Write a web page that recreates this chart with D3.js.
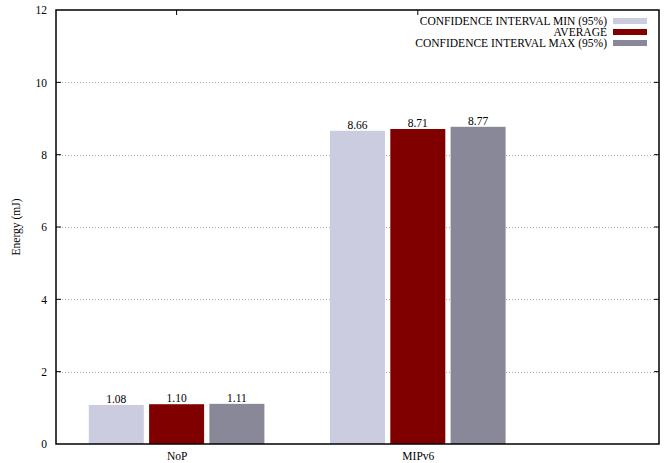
<!DOCTYPE html>
<html>
<head>
<meta charset="utf-8">
<script src="https://cdn.jsdelivr.net/npm/d3@7"></script>
<style>
  html, body { margin: 0; padding: 0; background: #fff; }
  svg text { font-family: "Liberation Serif", "Times New Roman", serif; }
</style>
</head>
<body>
<svg id="chart" width="669" height="463"></svg>
<script>
// Energy consumption per protocol, with 95% confidence bounds
const categories = ["NoP", "MIPv6"];
const seriesNames = ["CONFIDENCE INTERVAL MIN (95%)", "AVERAGE", "CONFIDENCE INTERVAL MAX (95%)"];
const ciMin = [1.08, 8.66];
const average = [1.10, 8.71];
const ciMax = [1.11, 8.77];
const yTicks = [0, 2, 4, 6, 8, 10, 12];
const seriesColors = ["#cccce0", "#800000", "#888898"];

const seriesValues = [ciMin, average, ciMax];
const FONT = "Liberation Serif";
const FS = "11.5px";

const svg = d3.select("#chart");
const margin = { left: 56, right: 10, top: 10, bottom: 19 };
const W = 669, H = 463;
const x0 = margin.left, x1 = W - margin.right;
const y0 = H - margin.bottom, y1 = margin.top;

// category index scale: categories at 0,1 ; range -0.5 .. 2
const x = d3.scaleLinear().domain([-0.5, 2]).range([x0, x1]);
const y = d3.scaleLinear().domain([0, 12]).range([y0, y1]);

const slot = 0.25;          // 3 bars + 1 gap per category
const barW = 0.228;

// dotted grid
svg.append("g").selectAll("line")
  .data(yTicks.filter(t => t > 0 && t < 12))
  .join("line")
  .attr("x1", x0).attr("x2", x1)
  .attr("y1", d => Math.round(y(d)) + 0.5).attr("y2", d => Math.round(y(d)) + 0.5)
  .attr("stroke", "#b0b0b0").attr("stroke-width", 1)
  .attr("stroke-dasharray", "1,2");

// bars
const bars = [];
categories.forEach((c, ci) => {
  seriesValues.forEach((vals, si) => {
    bars.push({ ci, si, v: vals[ci] });
  });
});

svg.append("g").selectAll("rect")
  .data(bars)
  .join("rect")
  .attr("x", d => x(d.ci + (d.si - 1) * slot - barW / 2))
  .attr("width", d => x(barW) - x(0))
  .attr("y", d => y(d.v))
  .attr("height", d => y(0) - y(d.v))
  .attr("fill", d => seriesColors[d.si]);

// value labels
svg.append("g").selectAll("text")
  .data(bars)
  .join("text")
  .attr("x", d => x(d.ci + (d.si - 1) * slot))
  .attr("y", d => y(d.v) - 2)
  .attr("text-anchor", "middle")
  .style("font-family", FONT).style("font-size", FS)
  .attr("fill", "#000")
  .text(d => d.v.toFixed(2));

// y axis ticks and labels (left, mirrored right)
const yAxis = d3.axisLeft(y).tickValues(yTicks).tickSize(0).tickPadding(9);
const gy = svg.append("g").attr("transform", `translate(${x0},0)`).call(yAxis);
gy.select(".domain").remove();
gy.selectAll("text").style("font-family", FONT).style("font-size", FS).attr("fill", "#000");

const tickLen = 5;
svg.append("g").selectAll("line")
  .data(yTicks.filter(t => t > 0 && t < 12))
  .join("line")
  .attr("x1", x0).attr("x2", x0 + tickLen)
  .attr("y1", d => y(d)).attr("y2", d => y(d))
  .attr("stroke", "#000");
svg.append("g").selectAll("line")
  .data(yTicks.filter(t => t > 0 && t < 12))
  .join("line")
  .attr("x1", x1).attr("x2", x1 - tickLen)
  .attr("y1", d => y(d)).attr("y2", d => y(d))
  .attr("stroke", "#000");

// x axis category labels and ticks
const xAxis = d3.axisBottom(x).tickValues(categories.map((c, i) => i))
  .tickFormat(i => categories[i]).tickSize(0).tickPadding(8);
const gx = svg.append("g").attr("transform", `translate(0,${y0})`).call(xAxis);
gx.select(".domain").remove();
gx.selectAll("text").style("font-family", FONT).style("font-size", FS).attr("fill", "#000");

svg.append("g").selectAll("line")
  .data(categories.map((c, i) => i))
  .join("line")
  .attr("x1", d => x(d)).attr("x2", d => x(d))
  .attr("y1", y1).attr("y2", y1 + tickLen)
  .attr("stroke", "#000");

// frame
svg.append("rect")
  .attr("x", x0).attr("y", y1)
  .attr("width", x1 - x0).attr("height", y0 - y1)
  .attr("fill", "none").attr("stroke", "#000").attr("stroke-width", 1.5);

// y axis title
svg.append("text")
  .attr("transform", `translate(20,${(y0 + y1) / 2}) rotate(-90)`)
  .attr("text-anchor", "middle")
  .style("font-family", FONT).style("font-size", FS)
  .text("Energy (mJ)");

// legend
const legend = svg.append("g");
seriesNames.forEach((name, i) => {
  const ly = 21 + i * 11;
  legend.append("text")
    .attr("x", 607).attr("y", ly)
    .attr("dy", "0.35em")
    .attr("text-anchor", "end")
    .style("font-family", FONT).style("font-size", FS)
    .text(name);
  legend.append("rect")
    .attr("x", 613).attr("y", ly - 3)
    .attr("width", 34).attr("height", 6)
    .attr("fill", seriesColors[i]);
});
</script>
</body>
</html>
